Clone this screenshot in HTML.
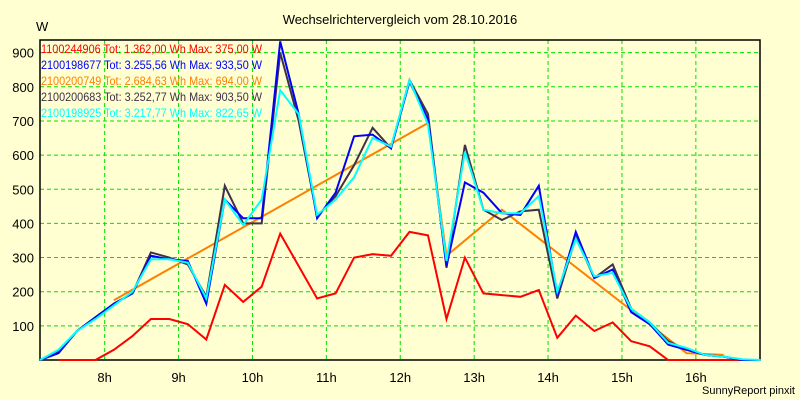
<!DOCTYPE html>
<html><head><meta charset="utf-8"><style>
html,body{margin:0;padding:0;background:#FFFFD2;}
svg{display:block;font-family:"Liberation Sans",sans-serif;}
</style></head><body>
<svg id="chart" width="800" height="400" xmlns="http://www.w3.org/2000/svg">
<rect width="800" height="400" fill="#FFFFD2"/>
<text x="400" y="24" text-anchor="middle" font-size="13" fill="#000">Wechselrichtervergleich vom 28.10.2016</text>
<text x="36" y="31" font-size="13" fill="#000">W</text>
<text x="795" y="394" text-anchor="end" font-size="11" fill="#000">SunnyReport pinxit</text>
<g id="grid"></g><g id="legend"></g><g id="axes"></g><g id="series"></g>
</svg>
<script>
const NS="http://www.w3.org/2000/svg";
const yTicks=[100,200,300,400,500,600,700,800,900];
const xTicks=[8,9,10,11,12,13,14,15,16];
const xTickLabels=["8h","9h","10h","11h","12h","13h","14h","15h","16h"];
const startTime=7.125, stepHours=0.25;
const redVals=[null,0,0,0,30,70,120,120,105,60,220,170,215,370,275,180,195,300,310,305,375,365,120,300,195,190,185,205,65,130,85,110,55,40,0,0,0,0,0,null];
const blueVals=[0,20,85,125,165,195,305,295,290,165,470,415,415,933,720,415,490,655,660,620,815,705,275,520,490,430,425,510,190,375,240,265,140,105,45,30,15,10,0,0];
const darkVals=[0,25,85,125,165,195,315,300,280,185,510,400,400,900,700,420,480,570,680,620,820,720,270,630,440,410,435,440,180,360,240,280,150,110,55,30,15,10,0,0];
const cyanVals=[0,30,85,120,160,200,295,295,285,180,470,395,470,790,720,425,470,535,650,625,820,690,290,610,440,430,430,480,200,355,245,255,150,110,50,35,15,10,2,0];
const orangeTimes=[8.125,12.375,12.625,13.375,15.875,16.375];
const orangeVals=[175,694,305,440,20,15];
const legendIds=["1100244906","2100198677","2100200749","2100200683","2100198925"];
const legendTot=["1.362,00","3.255,56","2.684,63","3.252,77","3.217,77"];
const legendMax=["375,00","933,50","694,00","903,50","822,65"];
const colors=["#FF0000","#0000FF","#FF8000","#403048","#00FFFF"];
const X0=40,X1=760,Y0=360,Y1=40;
const xs=t=>X0+(t-7.125)*73.9;
const ys=v=>Y0-v*0.3415;
function mk(tag,attrs,parent){const e=document.createElementNS(NS,tag);for(const k in attrs)e.setAttribute(k,attrs[k]);parent.appendChild(e);return e;}
const grid=document.getElementById('grid'),axes=document.getElementById('axes'),series=document.getElementById('series'),legend=document.getElementById('legend');
yTicks.forEach(v=>{
 const l=mk('line',{x1:X0,x2:X1,y1:ys(v),y2:ys(v),stroke:'#00E000','stroke-dasharray':'4,3'},grid);
 
 
 const t=mk('text',{x:34,y:ys(v)+5,'text-anchor':'end','font-size':13},axes);t.textContent=v;
 
 
});
xTicks.forEach((h,i)=>{
 const l=mk('line',{x1:xs(h),x2:xs(h),y1:Y1,y2:Y0,stroke:'#00E000','stroke-dasharray':'4,3'},grid);
 
 
 const t=mk('text',{x:xs(h),y:382,'text-anchor':'middle','font-size':13},axes);t.textContent=xTickLabels[i];
 
 
});
const frame=mk('rect',{x:X0,y:Y1,width:X1-X0,height:Y0-Y1,fill:'none',stroke:'#000','stroke-width':1.5},axes);


function drawSeries(vals,color,name){
 const pts=[];vals.forEach((v,k)=>{if(v!==null)pts.push(xs(startTime+k*stepHours).toFixed(1)+','+ys(v).toFixed(1));});
 const p=mk('polyline',{points:pts.join(' '),fill:'none',stroke:color,'stroke-width':2,'stroke-linejoin':'miter'},series);
 
 
}
const op=[];orangeTimes.forEach((t,i)=>op.push(xs(t).toFixed(1)+','+ys(orangeVals[i]).toFixed(1)));
const o=mk('polyline',{points:op.join(' '),fill:'none',stroke:colors[2],'stroke-width':2},series);


drawSeries(redVals,colors[0],'series-1100244906');
drawSeries(darkVals,colors[3],'series-2100200683');
drawSeries(blueVals,colors[1],'series-2100198677');
drawSeries(cyanVals,colors[4],'series-2100198925');
legendIds.forEach((id,i)=>{
 const t=mk('text',{x:41,y:53+i*16,'font-size':12,fill:colors[i],textLength:221,lengthAdjust:'spacingAndGlyphs'},legend);
 t.textContent=id+' Tot: '+legendTot[i]+' Wh Max: '+legendMax[i]+' W';
 
 
});
</script>
</body></html>
